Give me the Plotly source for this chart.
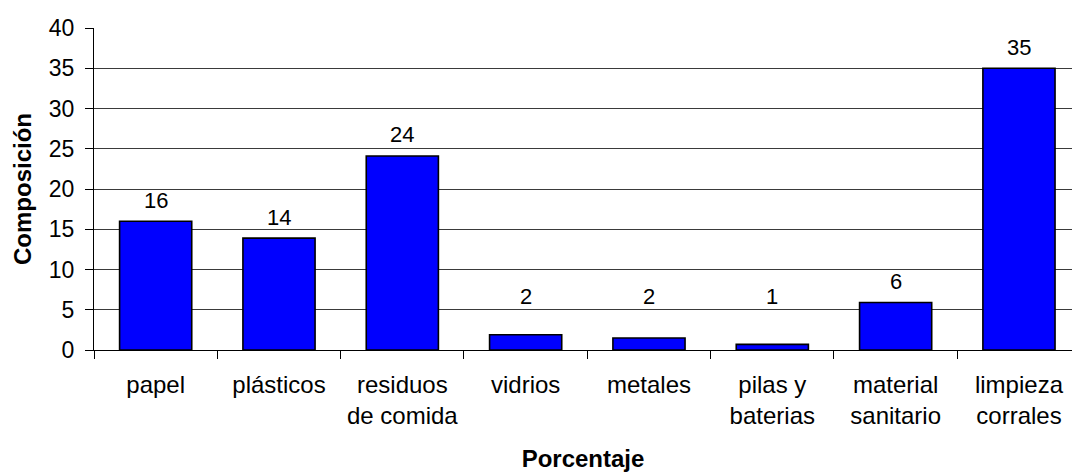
import plotly.graph_objects as go

categories = ["papel", "plásticos", "residuos<br>de comida", "vidrios", "metales",
              "pilas y<br>baterias", "material<br>sanitario", "limpieza<br>corrales"]
values = [16.0, 13.9, 24.1, 1.9, 1.5, 0.7, 5.9, 35.0]
y_ticks = [0, 5, 10, 15, 20, 25, 30, 35, 40]

FONT = "Liberation Sans, Arial, sans-serif"

fig = go.Figure()
fig.add_trace(go.Bar(
    x=categories, y=values,
    marker=dict(color="#0000FF", line=dict(color="#000000", width=1.6)),
    width=0.585,
    hoverinfo="x+y",
))

# data labels (rounded values), kept above the bar, with a minimum height for tiny bars
for c, v in zip(categories, values):
    fig.add_annotation(
        x=c, y=max(v, 4.0), xref="x", yref="y",
        text=f"{v:.0f}", showarrow=False,
        yanchor="middle", yshift=21,
        font=dict(family=FONT, size=22, color="#000000"),
    )

fig.update_layout(
    width=1072, height=472,
    margin=dict(l=94, r=0, t=28, b=122, pad=0),
    paper_bgcolor="white", plot_bgcolor="white",
    font=dict(family=FONT, color="#000000"),
    showlegend=False,
    bargap=0.4,
)

fig.update_xaxes(
    type="category",
    range=[-0.5, 7.43],
    showline=True, linecolor="#000000", linewidth=1.2,
    ticks="outside", ticklen=8, tickcolor="#000000", tickwidth=1,
    tickson="boundaries",
    tickfont=dict(family=FONT, size=24, color="#000000"),
    ticklabelstandoff=13,
    showgrid=False,
    title=dict(text="<b>Porcentaje</b>", font=dict(family=FONT, size=24, color="#000000"), standoff=24),
)

fig.update_yaxes(
    range=[0, 40],
    tickvals=y_ticks,
    showline=True, linecolor="#000000", linewidth=1.2,
    ticks="outside", ticklen=8, tickcolor="#000000", tickwidth=1,
    tickfont=dict(family=FONT, size=23, color="#000000"),
    ticklabelstandoff=6,
    showgrid=True, gridcolor="#3a3a3a", gridwidth=1,
    zeroline=False,
    title=dict(text="<b>Composición</b>", font=dict(family=FONT, size=24, color="#000000"), standoff=10),
)

fig.write_html("out.html")
